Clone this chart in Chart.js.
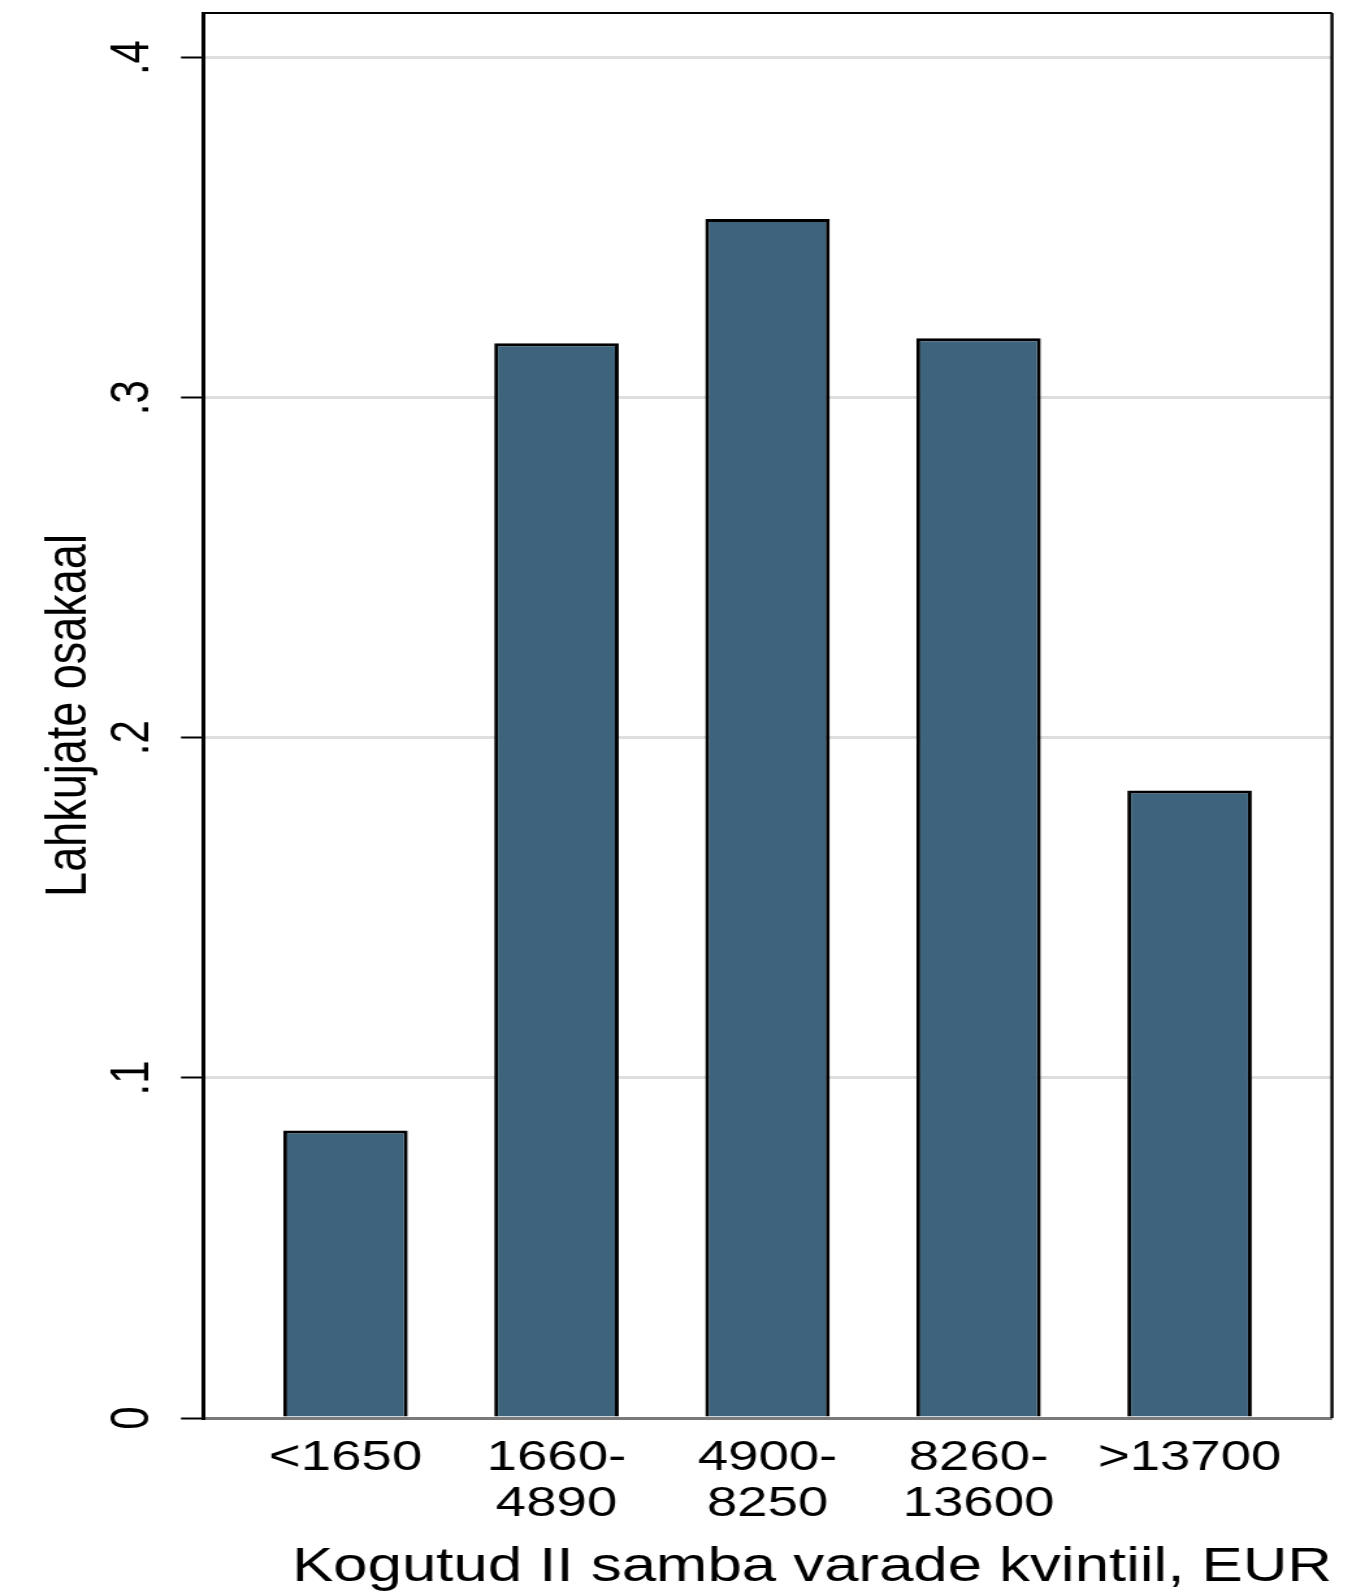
<!DOCTYPE html>
<html>
<head>
<meta charset="utf-8">
<script src="https://cdn.jsdelivr.net/npm/chart.js@4"></script>
<style>
  html, body { margin: 0; padding: 0; background: #fff; overflow: hidden; }
  /* the reference is stretched sideways, so the chart is drawn narrower and widened */
  #wrap { width: 1044px; height: 1596px; transform: scaleX(1.3); transform-origin: 0 0; }
</style>
</head>
<body>
<div id="wrap"><canvas id="chart" width="1044" height="1596"></canvas></div>
<script>
// kvintiilid ja lahkujate osakaal
const categories = ['<1650', ['1660-', '4890'], ['4900-', '8250'], ['8260-', '13600'], '>13700'];
const shareValues = [0.0845, 0.316, 0.3525, 0.3175, 0.1845];
const yTickValues = [0, 0.1, 0.2, 0.3, 0.4];
const yTickLabels = ['0', '.1', '.2', '.3', '.4'];

const FONT = 'Liberation Sans, Arial, Helvetica, sans-serif';

// top and right edges of the plot box
const framePlugin = {
    id: 'frame',
    afterDatasetsDraw(chart) {
        const { ctx, chartArea: a } = chart;
        ctx.save();
        ctx.strokeStyle = '#000';
        ctx.lineWidth = 2;
        ctx.beginPath();
        ctx.moveTo(a.left, a.top);
        ctx.lineTo(a.right, a.top);
        ctx.stroke();
        ctx.lineWidth = 2.4;
        ctx.beginPath();
        ctx.moveTo(a.right, a.top);
        ctx.lineTo(a.right, a.bottom);
        ctx.stroke();
        ctx.restore();
    }
};

const ctx = document.getElementById('chart').getContext('2d');
new Chart(ctx, {
    type: 'bar',
    data: {
        datasets: [{
            data: shareValues.map((v, i) => ({ x: i, y: v })),
            backgroundColor: '#3e637d',
            borderColor: '#000',
            borderWidth: 3,
            categoryPercentage: 1,
            barPercentage: 0.59,
        }],
    },
    options: {
        responsive: false,
        animation: false,
        devicePixelRatio: 1,
        layout: { padding: { top: 13, right: 19.4, bottom: 0, left: 0 } },
        plugins: {
            legend: { display: false },
            tooltip: { enabled: false },
        },
        scales: {
            x: {
                type: 'linear',
                offset: false,
                min: -0.675,
                max: 4.675,
                afterBuildTicks: (s) => { s.ticks = categories.map((_, i) => ({ value: i })); },
                afterFit: (s) => { s.height = 178; s.paddingLeft = 0; s.paddingRight = 0; },
                grid: { display: false, drawTicks: false, offset: false },
                border: { display: true, color: '#7a7a7a', width: 2 },
                ticks: {
                    autoSkip: false,
                    minRotation: 0,
                    maxRotation: 0,
                    padding: 17,
                    color: '#000',
                    font: { family: FONT, size: 42, lineHeight: 1.1 },
                    callback: (v) => categories[v],
                },
                title: {
                    display: true,
                    text: 'Kogutud II samba varade kvintiil, EUR',
                    align: 'end',
                    color: '#000',
                    font: { family: FONT, size: 47.5, lineHeight: 1 },
                    padding: { top: 0, bottom: 4 },
                },
            },
            y: {
                min: 0,
                max: 0.4131,
                afterBuildTicks: (s) => { s.ticks = yTickValues.map((v) => ({ value: v })); },
                afterFit: (s) => { s.width = 156.2; s.paddingTop = 0; s.paddingBottom = 0; },
                grid: {
                    color: (c) => (c.tick && c.tick.value === 0 ? '#7a7a7a' : '#dedede'),
                    lineWidth: 3,
                    tickColor: '#000',
                    tickWidth: 2,
                    tickLength: 17,
                },
                border: { color: '#000', width: 3 },
                ticks: {
                    minRotation: 90,
                    maxRotation: 90,
                    crossAlign: 'center',
                    padding: 19,
                    color: '#000',
                    font: { family: FONT, size: 42 },
                    callback: (v, i) => yTickLabels[i],
                },
                title: {
                    display: true,
                    text: 'Lahkujate osakaal',
                    color: '#000',
                    font: { family: FONT, size: 45, lineHeight: 1.2 },
                    padding: { top: 27, bottom: 0 },
                },
            },
        },
    },
    plugins: [framePlugin],
});
</script>
</body>
</html>
